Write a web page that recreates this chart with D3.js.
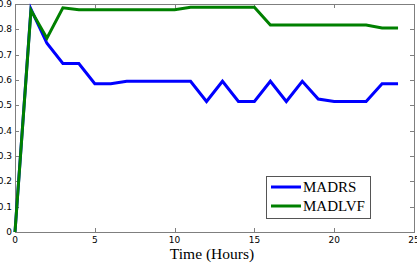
<!DOCTYPE html>
<html>
<head>
<meta charset="utf-8">
<script src="https://cdn.jsdelivr.net/npm/d3@7"></script>
<style>
  body { margin: 0; background: #fff; }
  svg { display: block; }
</style>
</head>
<body>
<div id="chart"></div>
<script>
// hours on the x axis
var hours = [0, 1, 2, 3, 4, 5, 6, 7, 8, 9, 10, 11, 12, 13, 14, 15, 16, 17, 18, 19, 20, 21, 22, 23, 24];
var madrs = [0, 0.88, 0.745, 0.665, 0.665, 0.585, 0.585, 0.595, 0.595, 0.595, 0.595, 0.595, 0.515, 0.595, 0.515, 0.515, 0.595, 0.515, 0.595, 0.525, 0.515, 0.515, 0.515, 0.585, 0.585];
var madlvf = [0, 0.875, 0.765, 0.885, 0.877, 0.877, 0.877, 0.877, 0.877, 0.877, 0.877, 0.887, 0.887, 0.887, 0.887, 0.887, 0.817, 0.817, 0.817, 0.817, 0.817, 0.817, 0.817, 0.805, 0.805];
var xTicks = [0, 5, 10, 15, 20, 25];
var yTicks = [0, 0.1, 0.2, 0.3, 0.4, 0.5, 0.6, 0.7, 0.8, 0.9];
var seriesNames = ["MADRS", "MADLVF"];
var seriesColors = ["#0000ff", "#008000"];

var width = 417, height = 264;
var plotL = 15, plotR = 414, plotT = 4, plotB = 232;

var svg = d3.select("#chart").append("svg")
    .attr("width", width)
    .attr("height", height);

var x = d3.scaleLinear().domain([0, 25]).range([plotL, plotR]);
var y = d3.scaleLinear().domain([0, 0.9]).range([plotB, plotT]);

// frame
svg.append("rect")
    .attr("x", plotL + 0.5).attr("y", plotT + 0.5)
    .attr("width", plotR - plotL).attr("height", plotB - plotT)
    .attr("fill", "none")
    .attr("stroke", "#7f7f7f")
    .attr("stroke-width", 1);

// inward ticks on all four sides
var tickG = svg.append("g").attr("stroke", "#7f7f7f").attr("stroke-width", 1);
xTicks.forEach(function(t) {
    var px = Math.round(x(t)) + 0.5;
    tickG.append("line").attr("x1", px).attr("x2", px).attr("y1", plotB).attr("y2", plotB - 4);
    tickG.append("line").attr("x1", px).attr("x2", px).attr("y1", plotT).attr("y2", plotT + 4);
});
yTicks.forEach(function(t) {
    var py = Math.round(y(t)) + 0.5;
    tickG.append("line").attr("x1", plotL).attr("x2", plotL + 4).attr("y1", py).attr("y2", py);
    tickG.append("line").attr("x1", plotR).attr("x2", plotR - 4).attr("y1", py).attr("y2", py);
});

// tick labels
svg.append("g").selectAll("text")
    .data(xTicks)
    .enter().append("text")
        .attr("x", function(d) { return x(d); })
        .attr("y", plotB + 11)
        .attr("text-anchor", "middle")
        .attr("font-family", "DejaVu Sans, sans-serif")
        .attr("font-size", 9)
        .attr("fill", "#000")
        .text(function(d) { return d; });

svg.append("g").selectAll("text")
    .data(yTicks)
    .enter().append("text")
        .attr("x", plotL - 3)
        .attr("y", function(d) { return y(d) + 3; })
        .attr("text-anchor", "end")
        .attr("font-family", "DejaVu Sans, sans-serif")
        .attr("font-size", 9)
        .attr("fill", "#000")
        .text(function(d) { return d === 0 ? "0" : d3.format(".1f")(d); });

// x label
svg.append("text")
    .attr("x", 212)
    .attr("y", 259)
    .attr("text-anchor", "middle")
    .attr("font-family", "Liberation Serif, serif")
    .attr("font-size", 15.5)
    .attr("fill", "#000")
    .text("Time (Hours)");

// lines
var line = d3.line()
    .x(function(d) { return x(d[0]); })
    .y(function(d) { return y(d[1]); });

[madrs, madlvf].forEach(function(vals, i) {
    svg.append("path")
        .datum(hours.map(function(h, j) { return [h, vals[j]]; }))
        .attr("d", line)
        .attr("fill", "none")
        .attr("stroke", seriesColors[i])
        .attr("stroke-width", 3)
        .attr("stroke-linejoin", "miter");
});

// legend
var lg = svg.append("g");
lg.append("rect")
    .attr("x", 266.5).attr("y", 176.5)
    .attr("width", 104).attr("height", 42)
    .attr("fill", "#fff")
    .attr("stroke", "#555")
    .attr("stroke-width", 1);
seriesNames.forEach(function(name, i) {
    var ly = 187 + i * 19;
    lg.append("line")
        .attr("x1", 271).attr("x2", 301)
        .attr("y1", ly).attr("y2", ly)
        .attr("stroke", seriesColors[i])
        .attr("stroke-width", 3);
    lg.append("text")
        .attr("x", 303).attr("y", ly + 5)
        .attr("font-family", "Liberation Serif, serif")
        .attr("font-size", 15)
        .attr("fill", "#000")
        .text(name);
});
</script>
</body>
</html>
